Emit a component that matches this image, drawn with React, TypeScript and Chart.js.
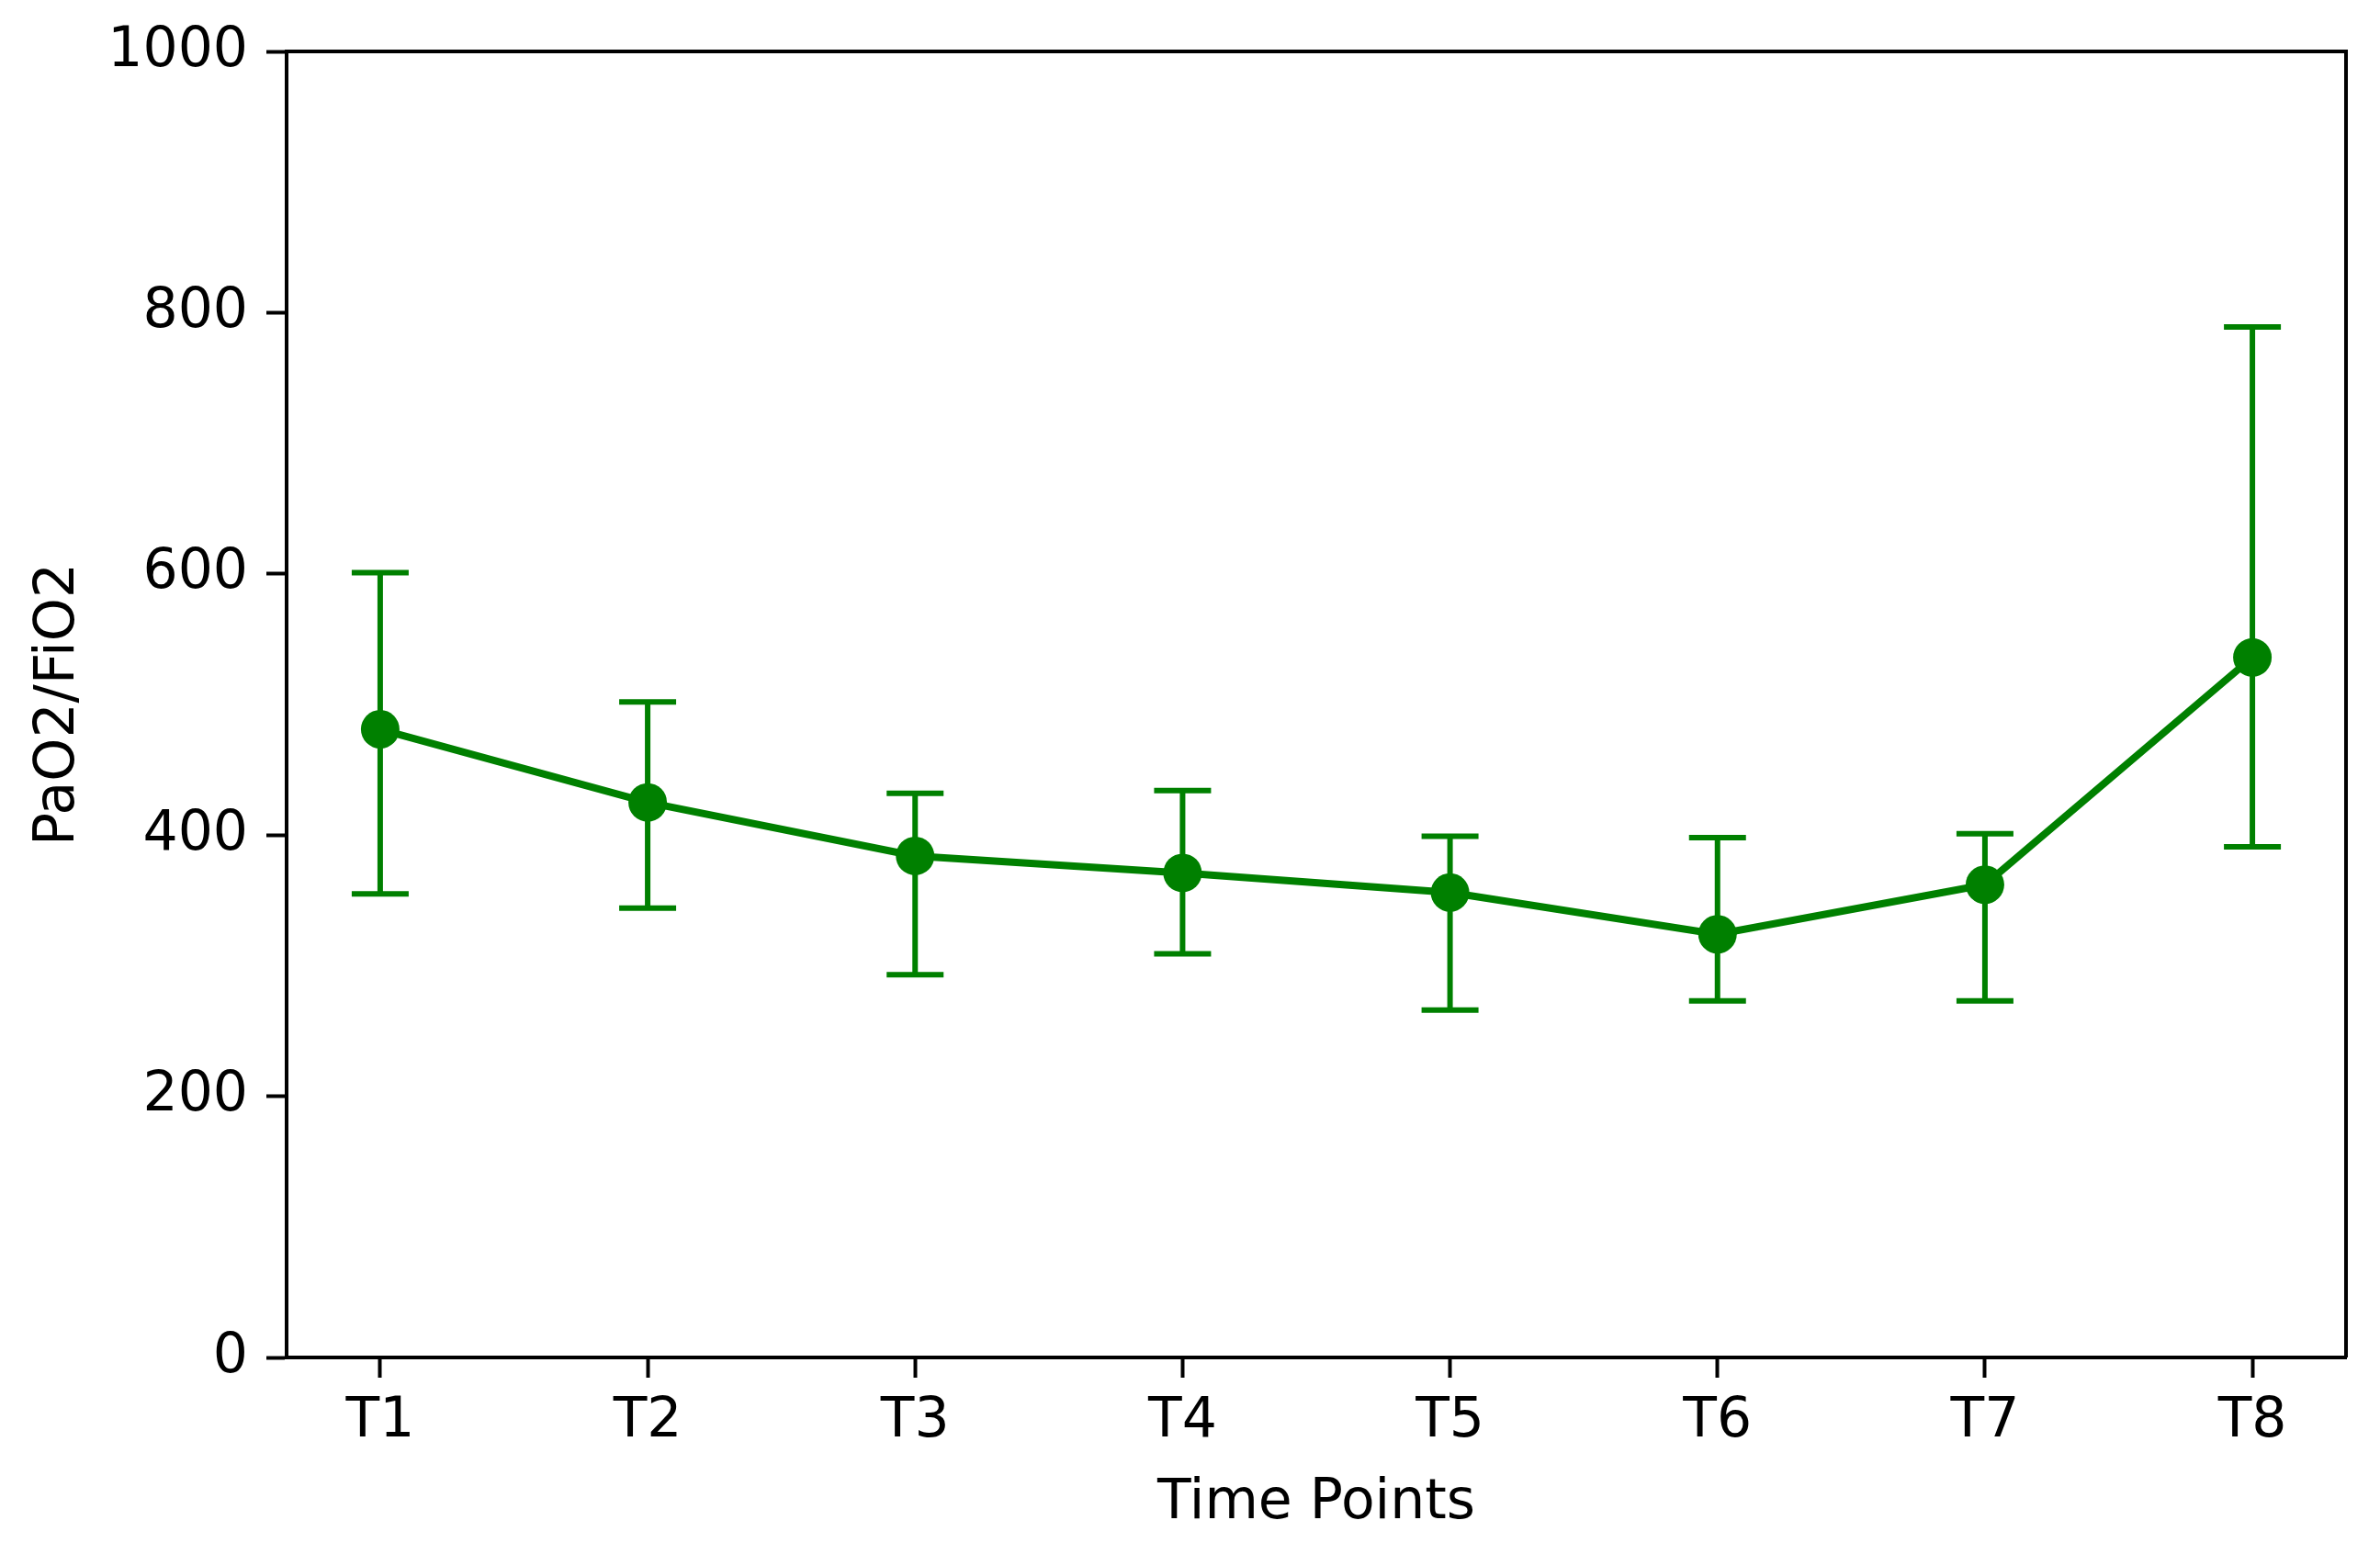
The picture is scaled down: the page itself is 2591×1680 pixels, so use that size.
import React, { useEffect, useRef } from "react";
import { Chart, registerables } from "chart.js";

Chart.register(...registerables);

const categories = ["T1", "T2", "T3", "T4", "T5", "T6", "T7", "T8"];
const values = [481, 425, 384, 371, 356, 324, 362, 536];
const upperValues = [601, 502, 432, 434, 399, 398, 401, 789];
const lowerValues = [355, 344, 293, 309, 266, 273, 273, 391];
const yTicks = [0, 200, 400, 600, 800, 1000];

const GREEN = "#008000";
const FONT = "'DejaVu Sans', sans-serif";

const errorBarPlugin = {
  id: "errorBars",
  beforeDatasetsDraw(chart: any) {
    const { ctx, scales } = chart;
    const xs = scales.x;
    const ys = scales.y;
    ctx.save();
    ctx.strokeStyle = GREEN;
    ctx.lineWidth = 6;
    ctx.lineCap = "butt";
    for (let i = 0; i < categories.length; i++) {
      const x = xs.getPixelForValue(i);
      const yu = ys.getPixelForValue(upperValues[i]);
      const yl = ys.getPixelForValue(lowerValues[i]);
      const cap = 31;
      ctx.beginPath();
      ctx.moveTo(x, yu);
      ctx.lineTo(x, yl);
      ctx.moveTo(x - cap, yu);
      ctx.lineTo(x + cap, yu);
      ctx.moveTo(x - cap, yl);
      ctx.lineTo(x + cap, yl);
      ctx.stroke();
    }
    ctx.restore();
  },
};

const framePlugin = {
  id: "frame",
  afterDraw(chart: any) {
    const { ctx, chartArea } = chart;
    ctx.save();
    ctx.strokeStyle = "#000";
    ctx.lineWidth = 4;
    ctx.beginPath();
    ctx.moveTo(chartArea.left, chartArea.top);
    ctx.lineTo(chartArea.right, chartArea.top);
    ctx.lineTo(chartArea.right, chartArea.bottom);
    ctx.stroke();
    ctx.restore();
  },
};

export default function App() {
  const ref = useRef<HTMLCanvasElement | null>(null);
  useEffect(() => {
    if (!ref.current) return;
    const chart = new Chart(ref.current, {
      type: "line",
      data: {
        datasets: [
          {
            label: "PaO2/FiO2",
            data: values.map((v, i) => ({ x: i, y: v })),
            borderColor: GREEN,
            backgroundColor: GREEN,
            borderWidth: 8,
            pointRadius: 21,
            pointHoverRadius: 21,
            pointBackgroundColor: GREEN,
            pointBorderWidth: 0,
            tension: 0,
          },
        ],
      },
      plugins: [errorBarPlugin, framePlugin],
      options: {
        animation: false,
        responsive: false,
        devicePixelRatio: 1,
        layout: { padding: { top: 51, right: 37, left: 0, bottom: 0 } },
        plugins: { legend: { display: false }, tooltip: { enabled: false } },
        scales: {
          x: {
            type: "linear",
            min: -0.35,
            max: 7.35,
            afterBuildTicks: (scale: any) => {
              scale.ticks = categories.map((_, i) => ({ value: i }));
            },
            afterFit: (scale: any) => {
              scale.height = 1680 - 1478;
            },
            ticks: {
              callback: (v: any) => categories[Number(v)] ?? "",
              color: "#000",
              font: { family: FONT, size: 60 },
              padding: 12,
              maxRotation: 0,
              autoSkip: false,
            },
            grid: {
              display: true,
              drawOnChartArea: false,
              drawTicks: true,
              tickLength: 22,
              tickWidth: 4,
              tickColor: "#000",
            },
            border: { display: true, color: "#000", width: 4 },
            title: {
              display: true,
              text: "Time Points",
              color: "#000",
              font: { family: FONT, size: 60 },
              padding: { top: 0, bottom: 7 },
            },
          },
          y: {
            type: "linear",
            min: 0,
            max: 1000,
            afterBuildTicks: (scale: any) => {
              scale.ticks = yTicks.map((v) => ({ value: v }));
            },
            afterFit: (scale: any) => {
              scale.width = 312;
            },
            ticks: {
              callback: (v: any) => String(v),
              color: "#000",
              font: { family: FONT, size: 60 },
              padding: 20,
            },
            grid: {
              display: true,
              drawOnChartArea: false,
              drawTicks: true,
              tickLength: 22,
              tickWidth: 4,
              tickColor: "#000",
            },
            border: { display: true, color: "#000", width: 4 },
            title: {
              display: true,
              text: "PaO2/FiO2",
              color: "#000",
              font: { family: FONT, size: 60 },
              padding: { top: 28, bottom: 28 },
            },
          },
        },
      },
    });
    return () => chart.destroy();
  }, []);
  return (
    <div style={{ position: "fixed", left: 0, top: 0, width: 2591, height: 1680, background: "#fff" }}>
      <canvas ref={ref} width={2591} height={1680} style={{ width: 2591, height: 1680 }} />
    </div>
  );
}
